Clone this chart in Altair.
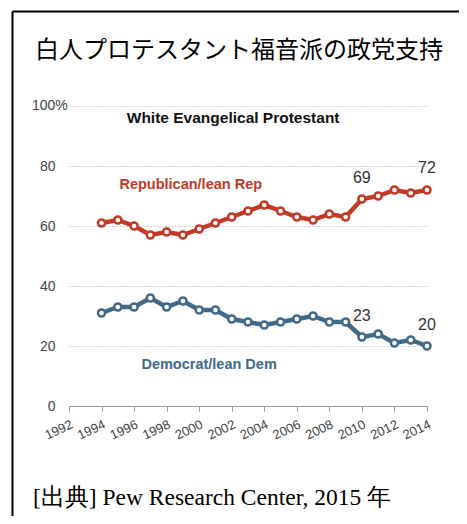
import altair as alt
import pandas as pd

# ---- data ----
years = list(range(1994, 2015))
rep = [61, 62, 60, 57, 58, 57, 59, 61, 63, 65, 67, 65, 63, 62, 64, 63, 69, 70, 72, 71, 72]
dem = [31, 33, 33, 36, 33, 35, 32, 32, 29, 28, 27, 28, 29, 30, 28, 28, 23, 24, 21, 22, 20]
series_names = ["Republican/lean Rep", "Democrat/lean Dem"]
series_colors = ["#c23a26", "#41698a"]

title_text = "白人プロテスタント福音派の政党支持"
source_text = "[出典] Pew Research Center, 2015 年"
y_ticks = [0, 20, 40, 60, 80, 100]
x_ticks = list(range(1992, 2015, 2))

# bold annotation labels
lab_text = ["White Evangelical Protestant", "Republican/lean Rep", "Democrat/lean Dem"]
lab_year = [1995.55, 1995.1, 1996.45]
lab_value = [96, 73.7, 13.7]
lab_color = ["#111111", "#c23a26", "#41698a"]
lab_size = [15.5, 14.5, 14.5]

# value callouts
val_text = ["69", "72", "23", "20"]
val_year = [2009.45, 2013.45, 2009.45, 2013.45]
val_value = [76, 79.3, 30, 27]

df = pd.DataFrame({
    "year": years * 2,
    "value": rep + dem,
    "series": [series_names[0]] * len(years) + [series_names[1]] * len(years),
})
labs = pd.DataFrame({"text": lab_text, "year": lab_year, "value": lab_value,
                     "color": lab_color, "size": lab_size})
vals = pd.DataFrame({"text": val_text, "year": val_year, "value": val_value})

xscale = alt.Scale(domain=[1992, 2014], nice=False, zero=False)
yscale = alt.Scale(domain=[0, 100], nice=False)
cscale = alt.Scale(domain=series_names, range=series_colors)

x_axis = alt.Axis(values=x_ticks, format="d", labelAngle=335, labelAlign="right",
                  labelBaseline="top", tickSize=5, tickColor="#999999",
                  domainColor="#999999", labelFontSize=13, labelColor="#444444",
                  labelFont="Liberation Sans", labelPadding=7, grid=False, title=None,
                  labelOverlap=False, labelFlush=False, labelBound=False)
y_axis = alt.Axis(values=y_ticks, labelExpr="datum.value == 100 ? '' : datum.label",
                  domain=False, ticks=False, labelPadding=14, labelFontSize=14,
                  labelColor="#444444", labelFont="Liberation Sans",
                  grid=True, gridDash=[1, 2], gridColor="#a8a8a8", title=None)

X = alt.X("year:Q", scale=xscale, axis=x_axis)
Y = alt.Y("value:Q", scale=yscale, axis=y_axis)

base = alt.Chart(df)
lines = base.mark_line(strokeWidth=4.5).encode(
    x=X, y=Y,
    color=alt.Color("series:N", scale=cscale, legend=None),
    detail="series:N",
)
points = base.mark_point(shape="circle", filled=True, fill="white", size=50,
                         strokeWidth=2.5, opacity=1).encode(
    x=X, y=Y,
    stroke=alt.Color("series:N", scale=cscale, legend=None),
)

labels = alt.Chart(labs).mark_text(align="left", baseline="middle",
                                   font="Liberation Sans", fontWeight="bold").encode(
    x=X, y=Y,
    text="text:N",
    color=alt.Color("color:N", scale=None),
    size=alt.Size("size:Q", scale=None),
)
callouts = alt.Chart(vals).mark_text(align="left", baseline="middle",
                                     font="Liberation Sans", fontSize=16, color="#333333").encode(
    x=X, y=Y, text="text:N",
)

pct = alt.Chart(pd.DataFrame({"t": ["100%"]})).mark_text(
    align="left", baseline="middle", font="Liberation Sans", fontSize=14, color="#444444"
).encode(x=alt.value(-37), y=alt.datum(100, scale=yscale), text="t:N")

title = alt.Chart(pd.DataFrame({"t": [title_text]})).mark_text(
    align="left", baseline="middle", font="Noto Sans CJK JP", fontSize=24, color="#000000"
).encode(x=alt.value(-34), y=alt.value(-55), text="t:N")

source = alt.Chart(pd.DataFrame({"t": [source_text]})).mark_text(
    align="left", baseline="middle", font="Liberation Serif", fontSize=23.5, color="#000000"
).encode(x=alt.value(-36), y=alt.value(392), text="t:N")

frame_top = alt.Chart(pd.DataFrame({"k": [0]})).mark_rule(color="#000000", strokeWidth=2).encode(
    x=alt.value(-56.5), x2=alt.value(400), y=alt.value(-94.5))
frame_left = alt.Chart(pd.DataFrame({"k": [0]})).mark_rule(color="#000000", strokeWidth=2).encode(
    x=alt.value(-56.5), y=alt.value(-94.5), y2=alt.value(420))

chart = alt.layer(lines, points, labels, callouts, pct, title, source, frame_top, frame_left).properties(
    width=358, height=300,
    autosize=alt.AutoSizeParams(type="none"),
    padding={"left": 61, "top": 98, "right": 32, "bottom": 110},
).configure_view(stroke=None).configure_axisX(labelOverlap=False, labelFlush=False)

chart.save("out.html", embed_options={"renderer": "svg", "actions": False})
